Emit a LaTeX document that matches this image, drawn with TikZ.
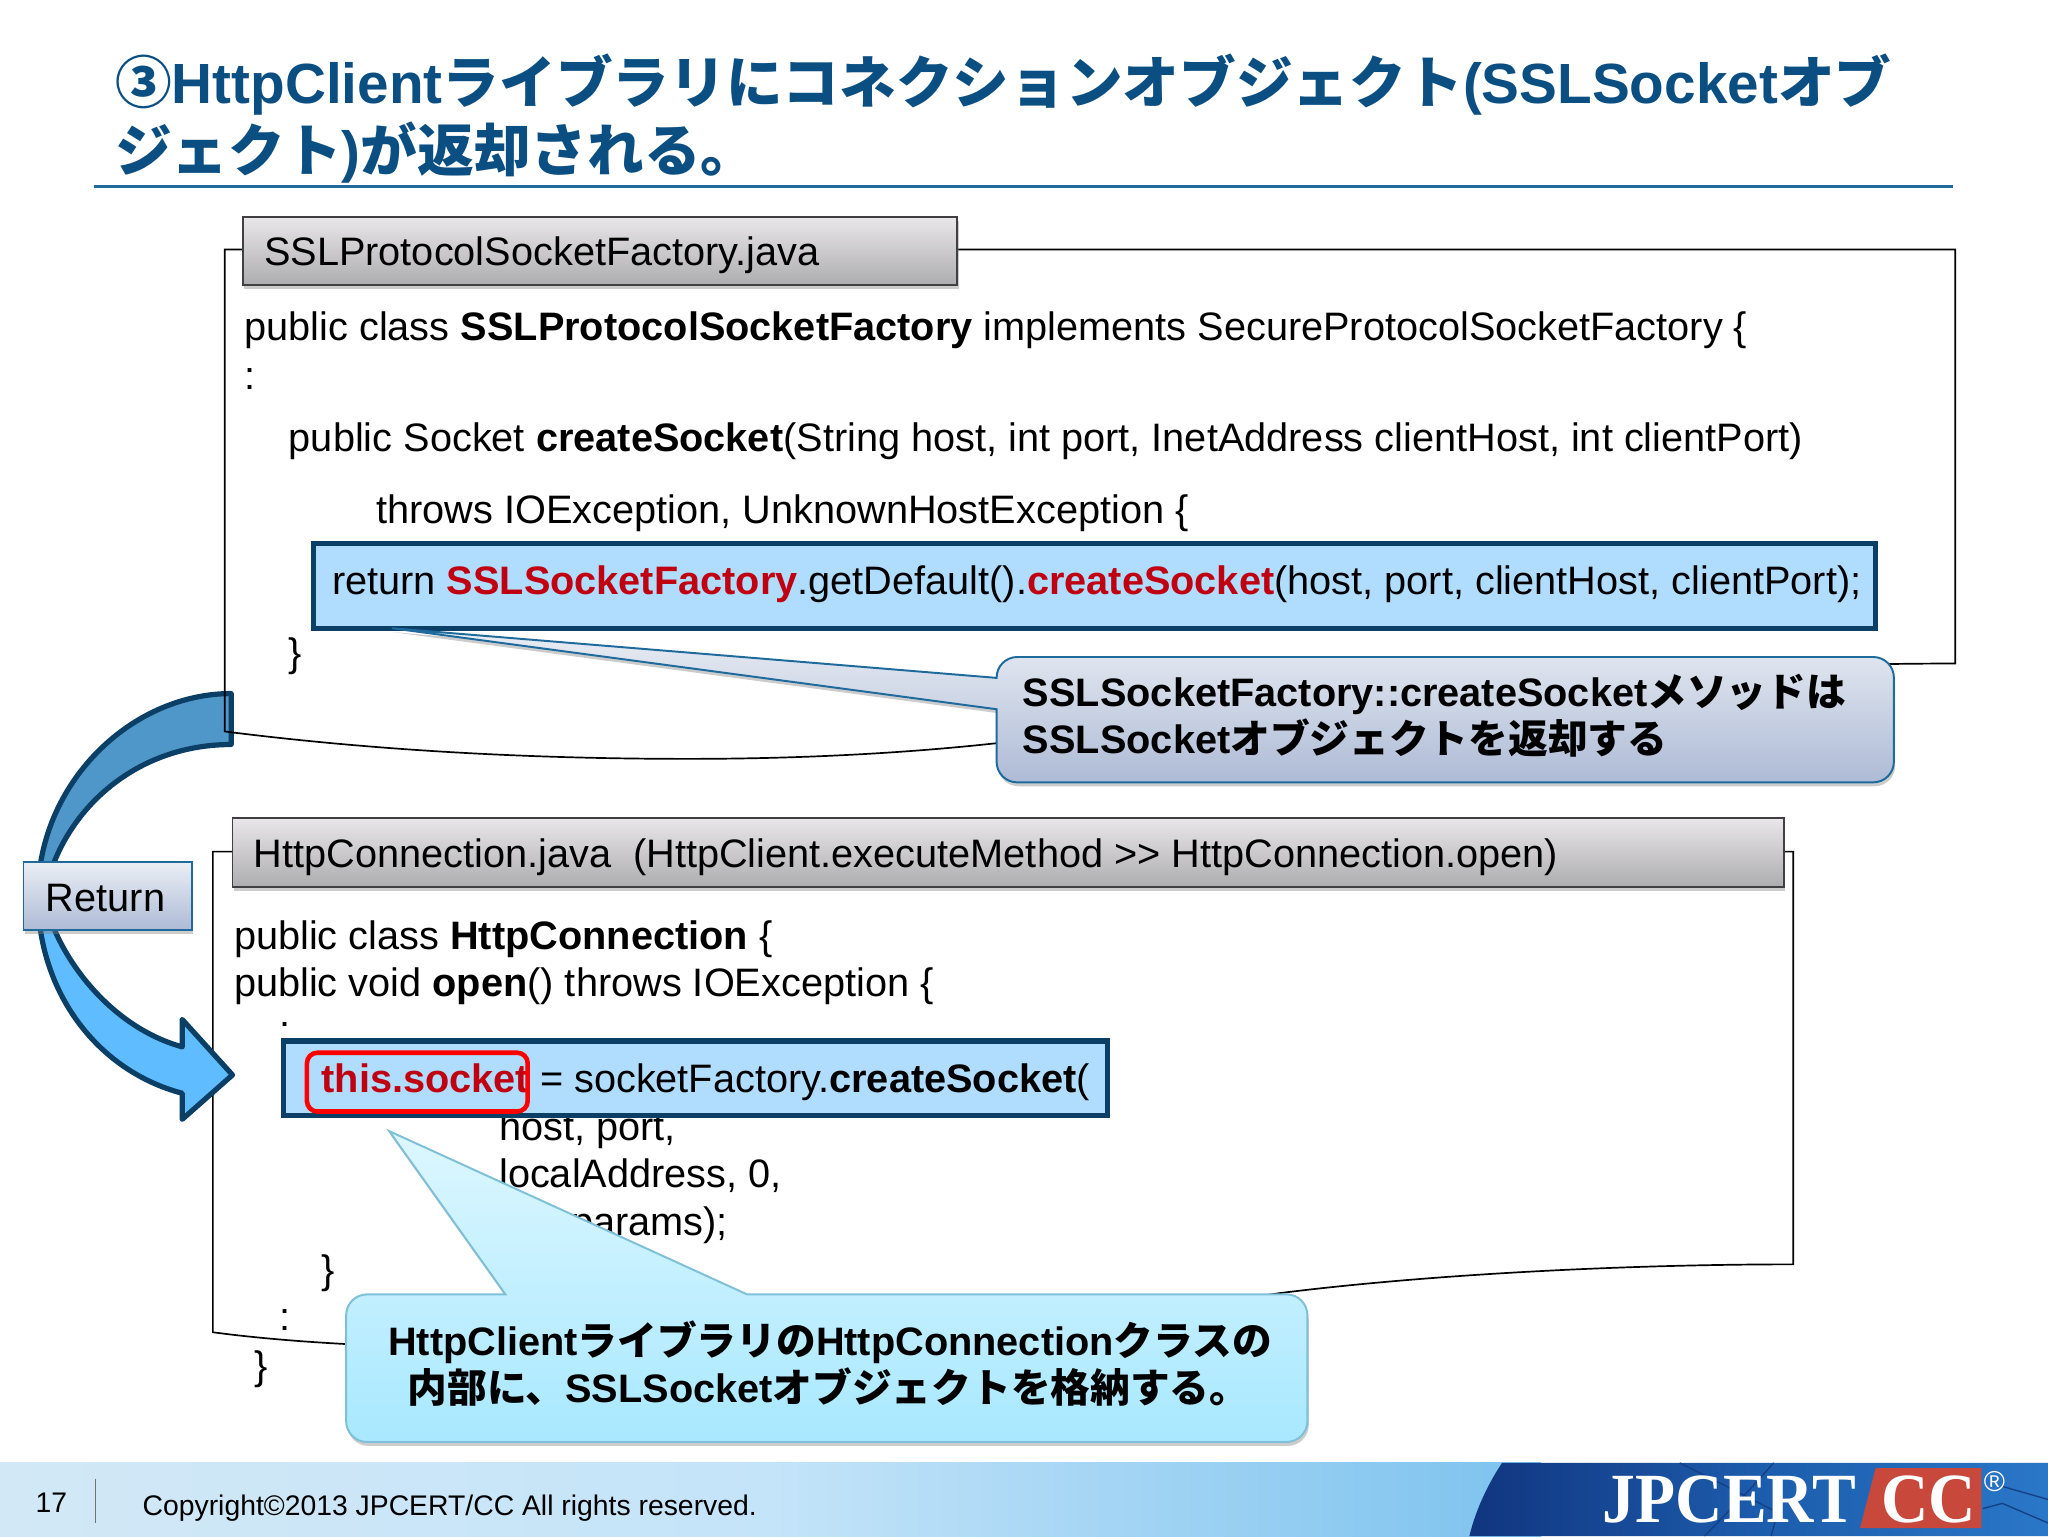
\documentclass[tikz,border=0pt]{standalone}
\usepackage{fontspec}
\setmainfont{Liberation Sans}
\newfontfamily\jpfont{Noto Sans CJK JP}
\newfontfamily\logofont{Liberation Serif}[FakeStretch=0.93]
\usetikzlibrary{shadows,shadings}
\newcommand{\jp}[1]{{\jpfont #1}}
\definecolor{titleblue}{HTML}{0B4F82}
\definecolor{navy}{HTML}{0B3F66}
\definecolor{edgeblue}{HTML}{1F6A9C}
\definecolor{hilite}{HTML}{B0DCFD}
\definecolor{codered}{HTML}{C00010}
\definecolor{logored}{HTML}{C8483C}
\definecolor{tabtop}{HTML}{E9E7E9}
\definecolor{tablow}{HTML}{ADACAE}
\definecolor{calltop}{HTML}{EAEEF4}
\definecolor{calllow}{HTML}{AEBBD6}
\definecolor{cyantop}{HTML}{DDF7FF}
\definecolor{cyanlow}{HTML}{A8E8FF}
\definecolor{cyanedge}{HTML}{7FBFD8}
\definecolor{arrowdark}{HTML}{4F97C9}
\definecolor{arrowlight}{HTML}{5FBCFF}
\definecolor{footleft}{HTML}{D2E8F6}
\definecolor{footmid}{HTML}{C4E4F9}
\definecolor{footright}{HTML}{7CC2EE}
\definecolor{logoleft}{HTML}{11357F}
\definecolor{logomid}{HTML}{1C5CAC}
\definecolor{logoright}{HTML}{2A77C8}
\definecolor{logoline}{HTML}{143F84}
\tikzset{
  txt/.style={anchor=base west,inner sep=0pt,font=\fontsize{30.4}{30.4}\selectfont},
  boldtxt/.style={txt,font=\fontsize{30.4}{30.4}\selectfont\bfseries},
  titletxt/.style={anchor=base west,inner sep=0pt,text=titleblue,font=\fontsize{43.4}{43.4}\selectfont\bfseries},
  foottxt/.style={anchor=base west,inner sep=0pt,font=\fontsize{21.7}{21.7}\selectfont},
  logotxt/.style={inner sep=0pt,text=white,font=\fontsize{54}{54}\logofont\bfseries},
  soft/.style={drop shadow={opacity=.4,shadow xshift=1pt,shadow yshift=-3pt}},
  tab/.style={draw=black!75,line width=1.5pt,top color=tabtop,bottom color=tablow,soft},
  outline/.style={draw=black,line width=1.3pt},
  hibox/.style={draw=navy,line width=4pt,fill=hilite},
  bluecall/.style={draw=edgeblue,line width=1.5pt,top color=calltop,bottom color=calllow,soft},
  cyancall/.style={draw=cyanedge,line width=1.5pt,top color=cyantop,bottom color=cyanlow,soft},
  arrowtop/.style={draw=navy,line width=4pt,line join=round,fill=arrowdark},
  arrowlow/.style={draw=navy,line width=4pt,line join=round,fill=arrowlight}
}
\begin{document}
\begin{tikzpicture}[x=1pt,y=-1pt]
\useasboundingbox (0,0) rectangle (1568,1176);
\fill[white] (0,0) rectangle (1568,1176);

% title
\node[titletxt] (title1) at (88,79) {\jp{③}HttpClient\jp{ライブラリにコネクションオブジェクト}(SSLSocket\jp{オブ}};
\node[titletxt] (title2) at (88,131) {\jp{ジェクト})\jp{が返却される。}};
\draw[edgeblue,line width=2pt] (72,143) -- (1495,143);

% lower listing
\draw[outline] (178,652) -- (163,652) -- (163,1020)
  .. controls (350,1045) and (700,1030) .. (980,990)
  .. controls (1100,975) and (1250,968) .. (1373,968) -- (1373,652) -- (1366,652);
\node[txt] (c1) at (179,727) {public class \textbf{HttpConnection} \{};
\node[txt] (c2) at (179,763) {public void \textbf{open}() throws IOException \{};
\node[txt] (c3) at (214,799) {:};
\node[txt] (c4) at (382,873.5) {host, port,};
\node[txt] (c5) at (382,909.5) {localAddress, 0,};
\node[txt] (c6) at (437,946) {params);};
\node[txt] (c7) at (246,983) {\}};
\node[txt] (c8) at (214,1019) {:};
\node[txt] (c9) at (195,1056) {\}};
\draw[hibox] (217,797) rectangle (848,854);
\node[txt] (c10) at (246,836.5) {\textcolor{codered}{\textbf{this.socket}} = socketFactory.\textbf{createSocket}(};
\draw[red,line width=3.5pt,rounded corners=8pt] (235,806) rectangle (404,851);
\draw[tab] (178,626) rectangle (1366,679);
\node[txt] (tab2) at (194,664) {HttpConnection.java\ \ (HttpClient.executeMethod {>}{>} HttpConnection.open)};

% return arrow
\draw[arrowlow] (29,686) .. controls (29,760) and (75,820) .. (139.5,837)
  -- (139.5,857) -- (178,823) -- (139.5,780.5) -- (139.5,801.5)
  .. controls (80,785) and (40,725) .. (34,686) -- cycle;
\draw[arrowtop] (29,686) .. controls (29,600) and (100,531) .. (177,531) -- (177,570)
  .. controls (100,570) and (45,625) .. (34,686) -- cycle;

% upper listing
\draw[outline] (186,191) -- (172,191) -- (172,560)
  .. controls (290,575) and (410,581) .. (527,581)
  .. controls (610,581) and (690,577) .. (763,569)
  .. controls (900,550) and (1200,508) .. (1497,508) -- (1497,191) -- (733,191);
\node[txt] (a1) at (187,260.5) {public class \textbf{SSLProtocolSocketFactory} implements SecureProtocolSocketFactory \{};
\node[txt] (a2) at (187,298) {:};
\node[txt] (a3) at (221,345.5) {public Socket \textbf{createSocket}(String host, int port, InetAddress clientHost, int clientPort)};
\node[txt] (a4) at (288,400.5) {throws IOException, UnknownHostException \{};
\draw[hibox] (240,416) rectangle (1436,481);
\node[txt] (a5) at (254,455.5) {return \textcolor{codered}{\textbf{SSLSocketFactory}}.getDefault().\textcolor{codered}{\textbf{createSocket}}(host, port, clientHost, clientPort);};
\node[txt] (a6) at (221,510) {\}};
\draw[tab] (186,166) rectangle (733,218);
\node[txt] (tab1) at (202,203) {SSLProtocolSocketFactory.java};

% callouts
\draw[bluecall] (763,543) -- (763,583) .. controls (763,592) and (770,599) .. (779,599)
  -- (1434,599) .. controls (1443,599) and (1450,592) .. (1450,583)
  -- (1450,519) .. controls (1450,510) and (1443,503) .. (1434,503)
  -- (779,503) .. controls (770,503) and (763,510) .. (763,519) -- (300,481) -- cycle;
\node[boldtxt] (n1) at (783,541) {SSLSocketFactory::createSocket\jp{メソッドは}};
\node[boldtxt] (n2) at (783,577) {SSLSocket\jp{オブジェクトを返却する}};
\draw[cyancall] (387,991) -- (298,866) -- (572,991) [rounded corners=16pt] -- (1001,991) -- (1001,1104) -- (265,1104) -- (265,991) -- (300,991) [sharp corners] -- cycle;
\node[boldtxt] (n3) at (297,1038) {HttpClient\jp{ライブラリの}HttpConnection\jp{クラスの}};
\node[boldtxt] (n4) at (312,1074) {\jp{内部に、}SSLSocket\jp{オブジェクトを格納する。}};

% return label
\draw[bluecall] (18,660) rectangle (147,712);
\node[txt] (ret) at (35,698) {Return};

% footer
\shade[left color=footleft,right color=footright,middle color=footmid] (0,1120) rectangle (1180,1176);
\shade[left color=logoleft,right color=logoright,middle color=logomid]
  (1125,1176) .. controls (1130,1155) and (1140,1135) .. (1150,1120) -- (1568,1120) -- (1568,1176) -- cycle;
\draw[logoline,line width=1pt] (1286,1120) -- (1316,1135) -- (1361,1158) -- (1356,1176);
\draw[logoline,line width=1pt] (1358,1120) -- (1340,1140) -- (1305,1176);
\draw[logoline,line width=1pt] (1518,1155) -- (1533,1151) -- (1568,1166);
\draw[logoline,line width=1pt] (1533,1138) -- (1568,1148);
\node[foottxt] (page) at (27,1158) {17};
\draw[black!55,line width=1pt] (73,1132) -- (73,1166);
\node[foottxt] (copy) at (109,1160) {Copyright©2013 JPCERT/CC All rights reserved.};
\fill[logored] (1436,1124) -- (1517,1124) -- (1517,1170) -- (1424,1170) -- cycle;
\node[logotxt,anchor=base east] (jpc) at (1421,1166) {JPCERT};
\node[logotxt,anchor=base west] (cc) at (1440,1166) {CC};
\node[inner sep=0pt,text=white,font=\fontsize{22}{22}\selectfont] (reg) at (1527,1134) {®};
\end{tikzpicture}
\end{document}
